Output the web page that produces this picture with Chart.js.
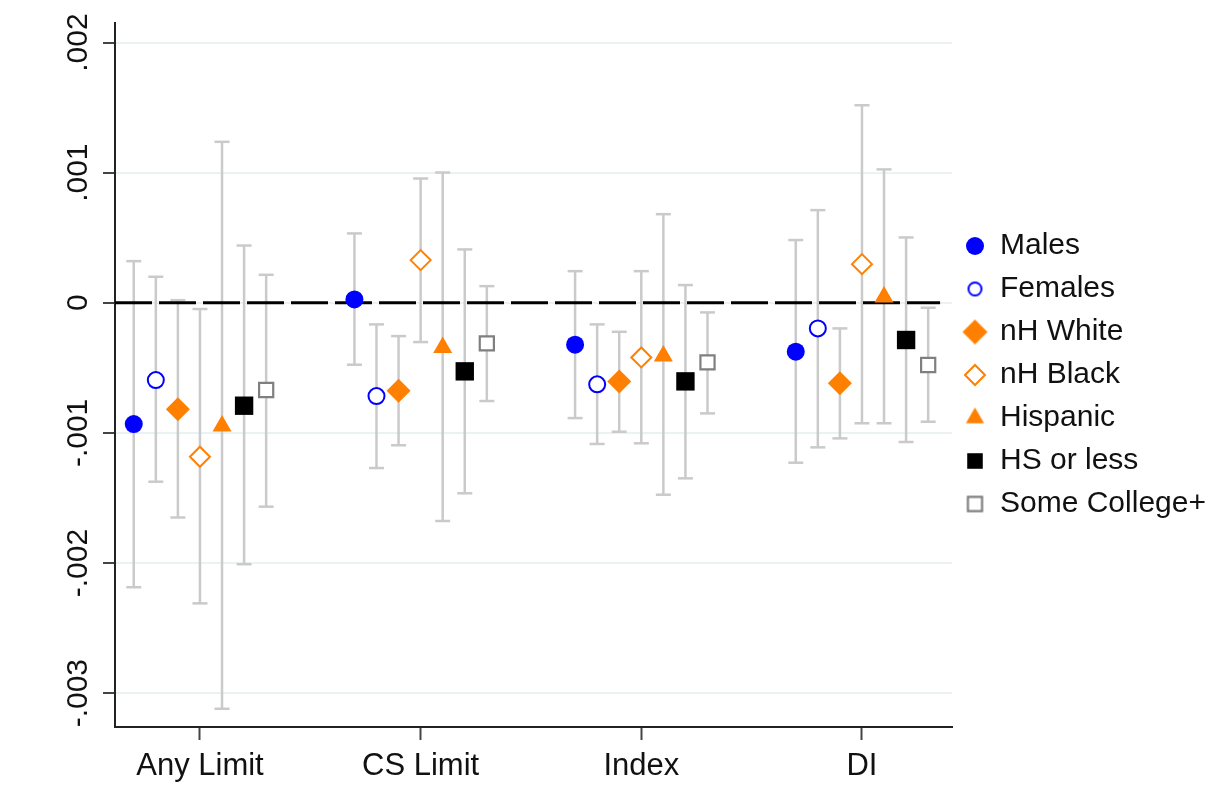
<!DOCTYPE html>
<html>
<head>
<meta charset="utf-8">
<script src="https://cdn.jsdelivr.net/npm/chart.js@4.4.0/dist/chart.umd.min.js"></script>
<style>
  body { margin: 0; background: #fff; }
  #wrap { width: 1211px; height: 808px; }
</style>
</head>
<body>
<div id="wrap"><canvas id="myChart" width="1211" height="808"></canvas></div>
<script>
'use strict';

const categories = ['Any Limit', 'CS Limit', 'Index', 'DI'];
const seriesNames = ['Males', 'Females', 'nH White', 'nH Black', 'Hispanic', 'HS or less', 'Some College+'];
const yTicks = [-0.003, -0.002, -0.001, 0, 0.001, 0.002];
const yTickLabels = ['-.003', '-.002', '-.001', '0', '.001', '.002'];

// estimates and 95% CI bounds, one value per category
const malesEst = [-0.000932, 0.000026, -0.000322, -0.000376];
const malesLo = [-0.002186, -0.000476, -0.000886, -0.001229];
const malesHi = [0.00032, 0.000533, 0.000243, 0.000482];

const femalesEst = [-0.000594, -0.000717, -0.000627, -0.000197];
const femalesLo = [-0.001375, -0.00127, -0.001085, -0.001111];
const femalesHi = [0.0002, -0.000166, -0.000166, 0.000712];

const whiteEst = [-0.000819, -0.000676, -0.000604, -0.000619];
const whiteLo = [-0.00165, -0.001095, -0.000991, -0.001042];
const whiteHi = [0.00002, -0.000256, -0.000223, -0.000197];

const blackEst = [-0.001183, 0.000328, -0.00042, 0.000297];
const blackLo = [-0.00231, -0.000302, -0.00108, -0.000926];
const blackHi = [-0.000048, 0.000955, 0.000243, 0.001518];

const hispanicEst = [-0.000947, -0.000344, -0.000409, 0.000044];
const hispanicLo = [-0.00312, -0.001677, -0.001475, -0.000926];
const hispanicHi = [0.001237, 0.001001, 0.000681, 0.001025];

const hsEst = [-0.000791, -0.000527, -0.000604, -0.000286];
const hsLo = [-0.002009, -0.001464, -0.001349, -0.00107];
const hsHi = [0.00044, 0.00041, 0.000136, 0.000502];

const collegeEst = [-0.00067, -0.000312, -0.000458, -0.000478];
const collegeLo = [-0.001567, -0.000755, -0.00085, -0.000914];
const collegeHi = [0.000215, 0.000128, -0.000074, -0.000038];

const estimates = [malesEst, femalesEst, whiteEst, blackEst, hispanicEst, hsEst, collegeEst];
const lows = [malesLo, femalesLo, whiteLo, blackLo, hispanicLo, hsLo, collegeLo];
const highs = [malesHi, femalesHi, whiteHi, blackHi, hispanicHi, hsHi, collegeHi];

const BLUE = '#0000ff';
const ORANGE = '#ff8000';
const CI_GRAY = '#cacaca';

// radius = marker in plot, legendRadius = marker in legend
const markerStyles = [
  { pointStyle: 'circle', radius: 9, legendRadius: 9, fill: BLUE, stroke: BLUE, width: 0 },
  { pointStyle: 'circle', radius: 8, legendRadius: 6.5, fill: '#fff', stroke: BLUE, width: 2 },
  { pointStyle: 'rectRot', radius: 12, legendRadius: 12.5, fill: ORANGE, stroke: ORANGE, width: 0 },
  { pointStyle: 'rectRot', radius: 10, legendRadius: 10, fill: '#fff', stroke: ORANGE, width: 2 },
  { pointStyle: 'triangle', radius: 11, legendRadius: 10.5, fill: ORANGE, stroke: ORANGE, width: 0 },
  { pointStyle: 'rect', radius: 13, legendRadius: 11, fill: '#000', stroke: '#000', width: 0 },
  { pointStyle: 'rect', radius: 10, legendRadius: 10, fill: '#fff', stroke: '#7f7f7f', width: 2.2 },
];

const X_MIN = 0.615;
const X_MAX = 4.408;

function seriesX(s, c) {
  return c + 1 + (s - 3) * 0.1;
}

// legend icons drawn with Chart.js' own point routine
function makeLegendIcon(st) {
  const size = Math.ceil(2 * (st.legendRadius + st.width) + 4);
  const cnv = document.createElement('canvas');
  cnv.width = size;
  cnv.height = size;
  const ctx = cnv.getContext('2d');
  ctx.fillStyle = st.fill;
  ctx.strokeStyle = st.stroke;
  ctx.lineWidth = st.width;
  Chart.helpers.drawPoint(ctx, {
    pointStyle: st.pointStyle,
    radius: st.legendRadius,
    borderWidth: st.width,
    rotation: 0,
  }, size / 2, size / 2);
  return cnv;
}

const markerSets = [];
const ciSets = [];

for (let s = 0; s < seriesNames.length; s++) {
  const st = markerStyles[s];
  markerSets.push({
    type: 'scatter',
    label: seriesNames[s],
    data: estimates[s].map((v, c) => ({ x: seriesX(s, c), y: v })),
    pointStyle: st.pointStyle,
    pointRadius: st.radius,
    pointHoverRadius: st.radius,
    backgroundColor: st.fill,
    borderColor: st.stroke,
    borderWidth: st.width,
    pointHoverBorderWidth: st.width,
  });

  const ci = [];
  for (let c = 0; c < categories.length; c++) {
    ci.push({ x: seriesX(s, c), y: lows[s][c] });
    ci.push({ x: seriesX(s, c), y: highs[s][c] });
    ci.push({ x: seriesX(s, c), y: null });
  }
  ciSets.push({
    type: 'line',
    label: seriesNames[s] + ' CI',
    data: ci,
    showLine: true,
    spanGaps: false,
    borderColor: CI_GRAY,
    borderWidth: 2.5,
    pointStyle: 'line',
    pointRadius: 7.5,
    pointHoverRadius: 7.5,
    pointBorderColor: CI_GRAY,
    pointBorderWidth: 2.5,
  });
}

const zeroLine = {
  type: 'line',
  label: 'zero',
  data: [{ x: X_MIN, y: 0 }, { x: 4.354, y: 0 }],
  borderColor: '#000',
  borderWidth: 3,
  borderDash: [37, 7],
  pointRadius: 0,
  pointHoverRadius: 0,
};

Chart.defaults.font.family = '"Liberation Sans", Arial, sans-serif';
Chart.defaults.color = '#111';

const legendIcons = markerStyles.map(makeLegendIcon);

new Chart(document.getElementById('myChart'), {
  type: 'scatter',
  data: { datasets: [...markerSets, zeroLine, ...ciSets] },
  options: {
    responsive: false,
    animation: false,
    layout: { padding: { left: 0, top: 23, right: 0, bottom: 0 } },
    plugins: {
      tooltip: { enabled: false },
      legend: {
        position: 'right',
        fullSize: false,
        align: 'center',
        maxWidth: 259,
        labels: {
          usePointStyle: true,
          boxWidth: 20,
          boxHeight: 13,
          padding: 13,
          color: '#111',
          font: { size: 30 },
          filter: item => item.datasetIndex < seriesNames.length,
          generateLabels: chart => {
            const items = Chart.defaults.plugins.legend.labels.generateLabels(chart);
            items.forEach(item => {
              if (item.datasetIndex < legendIcons.length) {
                item.pointStyle = legendIcons[item.datasetIndex];
              }
            });
            return items;
          },
        },
      },
    },
    scales: {
      x: {
        type: 'linear',
        min: X_MIN,
        max: X_MAX,
        afterBuildTicks: scale => { scale.ticks = categories.map((c, i) => ({ value: i + 1 })); },
        afterFit: scale => { scale.height = 81; },
        grid: { drawOnChartArea: false, tickLength: 13, tickColor: '#444', tickWidth: 2 },
        border: { color: '#222', width: 2 },
        ticks: {
          callback: v => categories[v - 1],
          autoSkip: false,
          maxRotation: 0,
          padding: 8,
          color: '#111',
          font: { size: 31 },
        },
      },
      y: {
        min: -0.00326,
        max: 0.00215,
        afterBuildTicks: scale => { scale.ticks = yTicks.map(v => ({ value: v })); },
        afterFit: scale => { scale.width = 115; },
        grid: { color: '#eaf2f3', lineWidth: 2, tickLength: 12, tickColor: '#444', tickWidth: 2 },
        border: { color: '#222', width: 2 },
        ticks: {
          callback: (v, i) => yTickLabels[i],
          minRotation: 90,
          maxRotation: 90,
          crossAlign: 'center',
          padding: -10,
          color: '#111',
          font: { size: 30 },
        },
      },
    },
  },
});
</script>
</body>
</html>
